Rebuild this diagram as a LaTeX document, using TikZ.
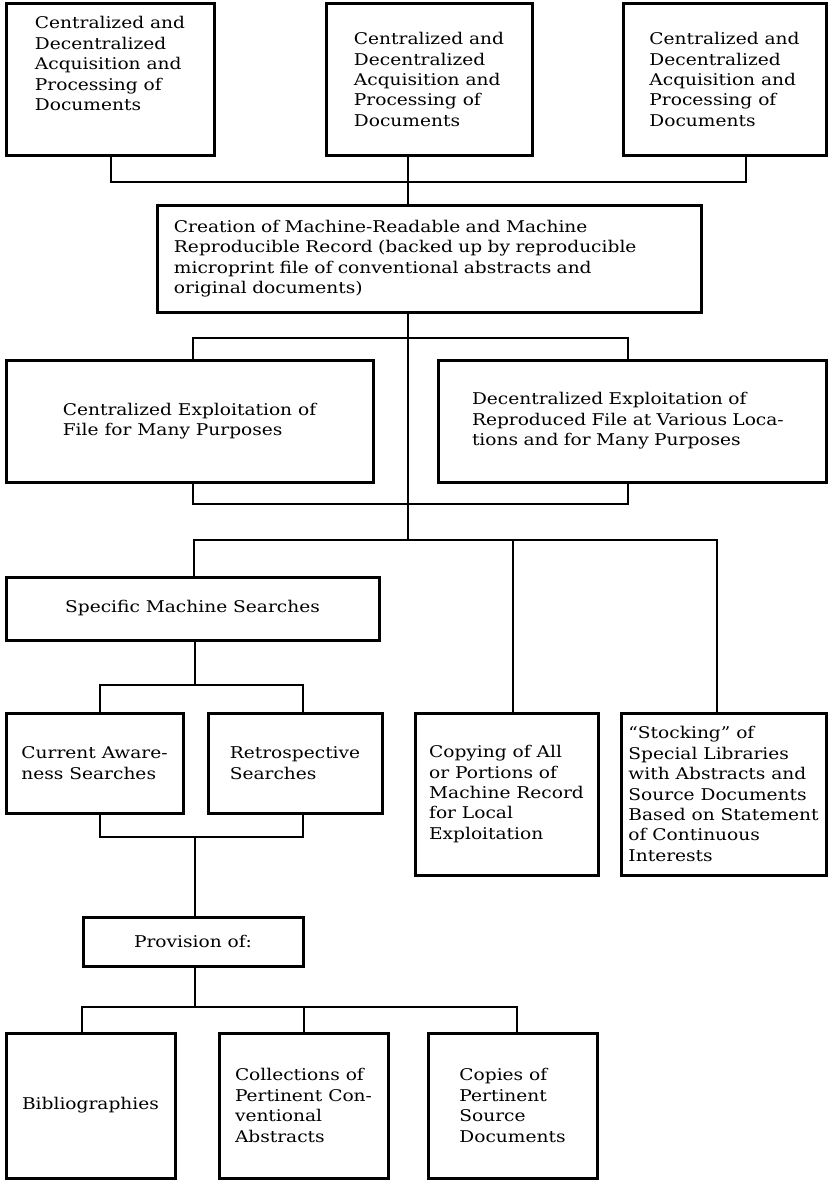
\documentclass[tikz,border=0pt]{standalone}
\usepackage{fontspec}
\setmainfont{DejaVu Serif}[FakeStretch=1.15]
\usetikzlibrary{positioning,calc}
\tikzset{
  panel/.style 2 args={draw, line width=0.75mm, inner sep=0pt,
    minimum width=#1*0.25mm, minimum height=#2*0.25mm},
  link/.style={line width=0.6mm, line join=miter}}

\begin{document}
\begin{tikzpicture}[x=0.25mm, y=-0.25mm,
  every node/.style={font=\fontsize{11.5}{14.5}\selectfont, align=left}]
  \useasboundingbox (0,0) rectangle (828,1181);

  % sources
  \node[panel={208}{151}, text depth=8mm] (acqA) at (110,79.5) {Centralized and\\Decentralized\\Acquisition and\\Processing of\\Documents};
  \node[panel={206}{151}] (acqB) at (429,79.5) {Centralized and\\Decentralized\\Acquisition and\\Processing of\\Documents};
  \node[panel={203}{151}] (acqC) at (724.5,79.5) {Centralized and\\Decentralized\\Acquisition and\\Processing of\\Documents};
  \node[panel={544}{107}, text width=127.5mm] (record) at (429,258.5) {Creation of Machine-Readable and Machine\\Reproducible Record (backed up by reproducible\\microprint file of conventional abstracts and\\original documents)};

  % exploitation
  \node[panel={367}{122}] (cexp) at (189.5,421) {Centralized Exploitation of\\File for Many Purposes};
  \node[panel={388}{122}, text width=80mm] (dexp) at (632,421) {Decentralized Exploitation of\\Reproduced File at Various Loca-\\tions and for Many Purposes};

  % uses
  \node[panel={373}{63}] (specific) at (192.5,608.5) {Specific Machine Searches};
  \node[panel={177}{100}] (current) at (94.5,763) {Current Aware-\\ness Searches};
  \node[panel={174}{100}] (retro) at (295,763) {Retrospective\\Searches};
  \node[panel={183}{162}] (copying) at (506.5,794) {Copying of All\\or Portions of\\Machine Record\\for Local\\Exploitation};
  \node[panel={205}{162}] (stocking) at (723.5,794) {“Stocking” of\\Special Libraries\\with Abstracts and\\Source Documents\\Based on Statement\\of Continuous\\Interests};

  % products
  \node[panel={220}{49}] (provision) at (193,941.5) {Provision of:};
  \node[panel={169}{145}] (biblio) at (90.5,1105.5) {Bibliographies};
  \node[panel={169}{145}] (collect) at (303.5,1105.5) {Collections of\\Pertinent Con-\\ventional\\Abstracts};
  \node[panel={169}{145}] (copies) at (512.5,1105.5) {Copies of\\Pertinent\\Source\\Documents};

  % junctions
  \coordinate (topL) at (111,182);
  \coordinate (topR) at (746,182);
  \coordinate (spine) at (408,540);
  \coordinate (upL) at (193,338);
  \coordinate (upR) at (628,338);
  \coordinate (loL) at (193,504);
  \coordinate (loR) at (628,504);
  \coordinate (fanL) at (194,540);
  \coordinate (fanM) at (513,540);
  \coordinate (fanR) at (717,540);
  \coordinate (srL) at (100,685);
  \coordinate (srR) at (303,685);
  \coordinate (sbL) at (100,837);
  \coordinate (sbR) at (303,837);
  \coordinate (pfL) at (82,1007);
  \coordinate (pfM) at (304,1007);
  \coordinate (pfR) at (517,1007);

  \draw[link] (acqA.south -| topL) -- (topL) -- (topR) -- (acqC.south -| topR);
  \draw[link] (acqB.south -| spine) -- (record.north -| spine);
  \draw[link] (record.south -| spine) -- (spine);
  \draw[link] (cexp.north -| upL) -- (upL) -- (upR) -- (dexp.north -| upR);
  \draw[link] (cexp.south -| loL) -- (loL) -- (loR) -- (dexp.south -| loR);
  \draw[link] (specific.north -| fanL) -- (fanL) -- (fanR) -- (stocking.north -| fanR);
  \draw[link] (fanM) -- (copying.north -| fanM);
  \draw[link] (specific.south) ++(2.5,0) coordinate (sdrop) -- (sdrop |- srL);
  \draw[link] (current.north -| srL) -- (srL) -- (srR) -- (retro.north -| srR);
  \draw[link] (current.south -| sbL) -- (sbL) -- (sbR) -- (retro.south -| sbR);
  \draw[link] (sbL -| provision.north) ++(2,0) coordinate (pdrop) -- (pdrop |- provision.north);
  \draw[link] (provision.south) ++(2,0) coordinate (qdrop) -- (qdrop |- pfL);
  \draw[link] (biblio.north -| pfL) -- (pfL) -- (pfR) -- (copies.north -| pfR);
  \draw[link] (pfM) -- (collect.north -| pfM);
\end{tikzpicture}
\end{document}
